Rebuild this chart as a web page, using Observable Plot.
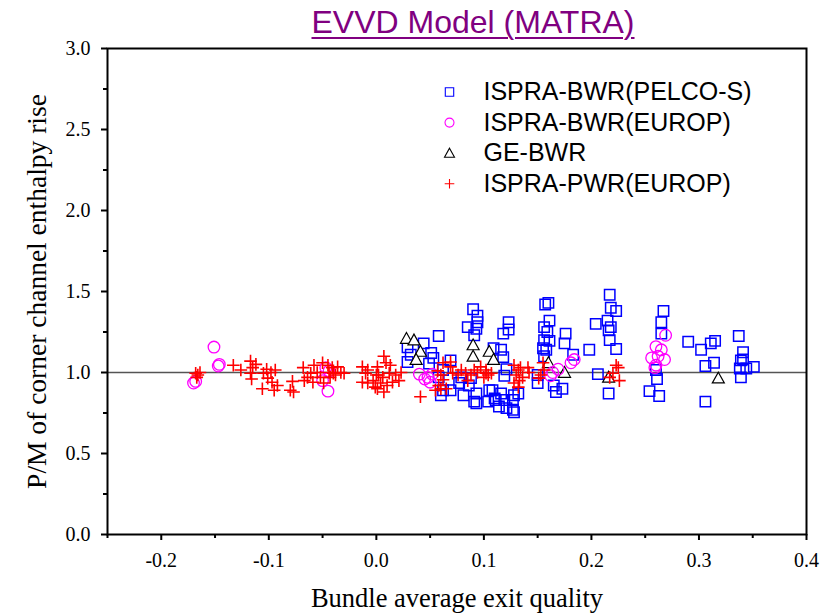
<!DOCTYPE html>
<html><head><meta charset="utf-8">
<script src="https://cdn.jsdelivr.net/npm/d3@7"></script>
<script src="https://cdn.jsdelivr.net/npm/@observablehq/plot@0.6"></script>
<style>
body{margin:0;background:#fff;}
#title{height:44px;width:831px;position:relative;}
#title span{position:absolute;left:473px;transform:translateX(-50%);top:6px;white-space:nowrap;font-family:"Liberation Sans",Arial,sans-serif;font-size:32px;line-height:32px;color:#800080;text-decoration:underline;text-decoration-thickness:2px;text-underline-offset:4px;}
#chart svg{overflow:visible;}
</style></head>
<body>
<div id="title"><span>EVVD Model (MATRA)</span></div>
<div id="chart"></div>
<script>
const titleText = "EVVD Model (MATRA)";
const xLabel = "Bundle average exit quality";
const yLabel = "P/M of corner channel enthalpy rise";
const seriesNames = ["ISPRA-BWR(PELCO-S)", "ISPRA-BWR(EUROP)", "GE-BWR", "ISPRA-PWR(EUROP)"];
const xTicks = [-0.2, -0.1, 0.0, 0.1, 0.2, 0.3, 0.4];
const xMinorTicks = [-0.25, -0.15, -0.05, 0.05, 0.15, 0.25, 0.35];
const yTicks = [0, 0.5, 1.0, 1.5, 2.0, 2.5, 3.0];
const yMinorTicks = [0.25, 0.75, 1.25, 1.75, 2.25, 2.75];

// ISPRA-BWR(PELCO-S)
const pelcoX = [0.029,0.032,0.029,0.044,0.058,0.051,0.053,0.049,0.069,0.062,0.058,0.062,0.060,0.069,0.079,0.077,
  0.090,0.094,0.094,0.085,0.093,0.091,0.088,0.086,0.081,0.093,0.091,0.093,0.105,0.104,
  0.123,0.123,0.118,0.109,0.118,0.116,0.121,0.119,0.108,0.111,0.114,0.119,0.121,0.128,0.132,0.127,0.128,0.127,0.116,0.110,
  0.157,0.160,0.161,0.156,0.159,0.156,0.161,0.155,0.158,0.156,0.150,0.150,0.176,0.175,0.183,0.165,0.167,0.173,
  0.198,0.204,0.206,0.217,0.218,0.223,0.215,0.218,0.216,0.217,0.223,0.216,
  0.267,0.265,0.265,0.260,0.261,0.254,0.263,
  0.290,0.302,0.311,0.315,0.306,0.314,0.306,
  0.337,0.341,0.339,0.338,0.344,0.351,0.339,0.341];
const pelcoY = [1.155,1.11,1.065,1.18,1.225,1.12,1.09,1.055,1.075,1.015,0.97,0.89,0.86,0.89,0.97,0.935,
  1.39,1.35,1.31,1.28,1.27,1.23,0.965,0.92,0.86,0.87,0.82,0.81,0.89,0.82,
  1.31,1.265,1.24,1.15,1.095,1.14,1.02,0.98,0.89,0.83,0.79,0.83,0.78,0.755,0.87,0.83,0.86,0.77,0.87,0.84,
  1.42,1.43,1.32,1.28,1.25,1.20,1.195,1.15,1.14,1.10,0.985,0.935,1.24,1.18,1.11,0.92,0.88,0.90,
  1.14,1.30,0.99,1.48,1.40,1.38,1.32,1.28,1.26,1.20,1.145,0.87,
  1.38,1.31,1.24,1.015,0.96,0.885,0.855,
  1.19,1.14,1.18,1.195,1.04,1.06,0.82,
  1.225,1.125,1.075,1.025,1.025,1.035,0.97,1.08];

// ISPRA-BWR(EUROP)
const europBwrX = [-0.170,-0.168,-0.151,-0.147,-0.146,-0.047,-0.045,-0.050,-0.044,
  0.040,0.045,0.048,0.050,0.052,0.162,0.164,0.169,0.181,0.184,
  0.256,0.259,0.260,0.260,0.262,0.265,0.268,0.269];
const europBwrY = [0.935,0.945,1.157,1.04,1.05,1.03,0.885,0.95,1.01,
  0.99,0.96,0.97,0.94,0.99,0.98,1.0,1.02,1.06,1.08,
  1.09,1.03,1.16,1.045,1.10,1.14,1.08,1.23];

// GE-BWR
const geX = [0.028,0.035,0.041,0.037,0.090,0.090,0.105,0.109,0.160,0.175,0.216,0.318];
const geY = [1.21,1.20,1.13,1.08,1.17,1.10,1.13,1.08,1.06,1.00,0.97,0.965];

// ISPRA-PWR(EUROP)
const pwrX = [-0.168,-0.166,-0.164,-0.167,-0.133,-0.126,-0.117,-0.112,-0.115,-0.117,-0.116,
  -0.105,-0.102,-0.098,-0.094,-0.101,-0.097,-0.092,-0.095,-0.106,-0.078,-0.077,-0.080,
  -0.068,-0.064,-0.067,-0.061,-0.058,-0.059,-0.055,-0.052,-0.050,-0.049,
  -0.044,-0.041,-0.040,-0.036,-0.033,-0.030,-0.043,-0.038,-0.045,
  -0.013,-0.010,-0.013,-0.008,-0.003,-0.001,0.002,-0.008,
  0.007,0.009,0.001,0.013,0.000,0.006,0.012,0.018,0.021,0.004,0.010,0.001,0.007,0.015,0.023,0.041,
  0.057,0.060,0.062,0.058,0.065,0.069,0.071,0.076,0.079,0.083,0.088,0.091,0.094,0.085,0.097,0.102,0.100,0.062,0.069,0.060,0.055,0.104,
  0.107,0.102,0.128,0.132,0.134,0.130,0.133,0.128,0.141,0.142,0.136,0.132,
  0.155,0.156,0.153,0.151,0.223,0.225,0.220,0.217,0.226];
const pwrY = [0.995,0.985,1.0,0.97,1.045,1.015,1.07,1.05,1.03,0.995,0.96,
  0.995,1.02,1.0,1.015,0.965,0.94,0.92,0.89,0.90,0.945,0.88,0.89,
  1.03,0.97,0.95,0.995,1.045,0.94,1.0,0.97,1.06,0.935,
  1.0,1.03,0.995,1.035,1.0,0.995,0.97,0.985,1.045,
  1.035,0.995,0.94,0.935,0.95,0.91,0.985,1.015,
  1.10,1.06,1.035,1.045,0.985,0.97,0.995,0.985,0.95,0.935,0.92,0.90,0.88,0.94,1.0,0.85,
  1.01,0.985,0.955,0.92,0.90,1.035,0.995,0.985,1.015,0.995,0.985,1.015,1.0,0.95,1.035,0.995,0.97,1.06,1.065,0.90,0.89,0.985,
  0.995,1.015,1.045,1.015,1.03,0.985,0.95,0.935,1.03,1.0,0.97,0.91,
  1.06,1.015,0.985,0.965,1.045,1.03,0.995,0.97,0.95];

const pts = (xs, ys) => xs.map((x, i) => ({x, y: ys[i]}));
const sz = s => Math.sqrt(s / Math.PI);
const symSquare = {draw(c, s) { const r = sz(s); c.rect(-r, -r, 2 * r, 2 * r); }};
const symCircle = {draw(c, s) { const r = sz(s); c.moveTo(r, 0); c.arc(0, 0, r, 0, 2 * Math.PI); }};
const symTriangle = {draw(c, s) { const r = sz(s); c.moveTo(0, -r); c.lineTo(r, 0.8 * r); c.lineTo(-r, 0.8 * r); c.closePath(); }};
const symPlus = {draw(c, s) { const r = sz(s); c.moveTo(-r, 0); c.lineTo(r, 0); c.moveTo(0, -r); c.lineTo(0, r); }};

const styles = [
  {symbol: symSquare, stroke: "#0000ff", fill: "none", r: 5.2, lr: 4.2, sw: 1.5},
  {symbol: symCircle, stroke: "#ff00ff", fill: "none", r: 5.8, lr: 4.5, sw: 1.3},
  {symbol: symTriangle, stroke: "#000000", fill: "#ffffff", r: 6, lr: 5, sw: 1.2},
  {symbol: symPlus, stroke: "#ff0000", fill: "none", r: 6.3, lr: 4.8, sw: 1.6}
];
const seriesData = [pts(pelcoX, pelcoY), pts(europBwrX, europBwrY), pts(geX, geY), pts(pwrX, pwrY)];

const dataMarks = [0, 2, 1, 3].map(k => Plot.dot(seriesData[k], {
  x: "x", y: "y", symbol: styles[k].symbol, r: styles[k].r,
  stroke: styles[k].stroke, fill: styles[k].fill, strokeWidth: styles[k].sw
}));

const legendMarks = seriesNames.flatMap((name, i) => [
  Plot.dot([name], {frameAnchor: "top-left", dx: 342, dy: 43.5 + i * 30.6,
    symbol: styles[i].symbol, r: styles[i].lr, stroke: styles[i].stroke, fill: styles[i].fill, strokeWidth: 1.1}),
  Plot.text([name], {frameAnchor: "top-left", dx: 376, dy: 43.5 + i * 30.6, text: d => d,
    textAnchor: "start", lineAnchor: "middle", fontFamily: "Liberation Sans, Arial, sans-serif", fontSize: 25, fill: "#000"})
]);

const fmt = d => d.toFixed(1);

const chart = Plot.plot({
  width: 831, height: 572,
  marginTop: 4, marginRight: 25, marginBottom: 82, marginLeft: 107,
  x: {domain: [-0.25, 0.4]},
  y: {domain: [0, 3]},
  style: {fontFamily: "Liberation Serif, Times New Roman, serif", background: "#fff", color: "#000", overflow: "visible"},
  marks: [
    Plot.ruleY([1], {stroke: "#555", strokeWidth: 1.5}),
    ...dataMarks,
    Plot.frame({stroke: "#000", strokeWidth: 2}),
    Plot.axisX({ticks: xTicks, tickFormat: fmt, tickSize: 6, tickPadding: 12, strokeWidth: 2, fontSize: 20, label: null}),
    Plot.axisX({ticks: xMinorTicks, tickFormat: () => "", tickSize: 4, strokeWidth: 2, label: null}),
    Plot.axisY({ticks: yTicks, tickFormat: fmt, tickSize: 6, tickPadding: 11, strokeWidth: 2, fontSize: 20, label: null}),
    Plot.axisY({ticks: yMinorTicks, tickFormat: () => "", tickSize: 4, strokeWidth: 2, label: null}),
    Plot.text([xLabel], {frameAnchor: "bottom", dy: 64, text: d => d, textAnchor: "middle", lineAnchor: "middle", fontSize: 26.5, fill: "#000"}),
    Plot.text([yLabel], {frameAnchor: "left", dx: -70, rotate: -90, text: d => d, textAnchor: "middle", lineAnchor: "middle", fontSize: 27.5, fill: "#000"}),
    ...legendMarks
  ]
});
document.getElementById("chart").appendChild(chart);
document.querySelector("#title span").textContent = titleText;
</script>
</body></html>
